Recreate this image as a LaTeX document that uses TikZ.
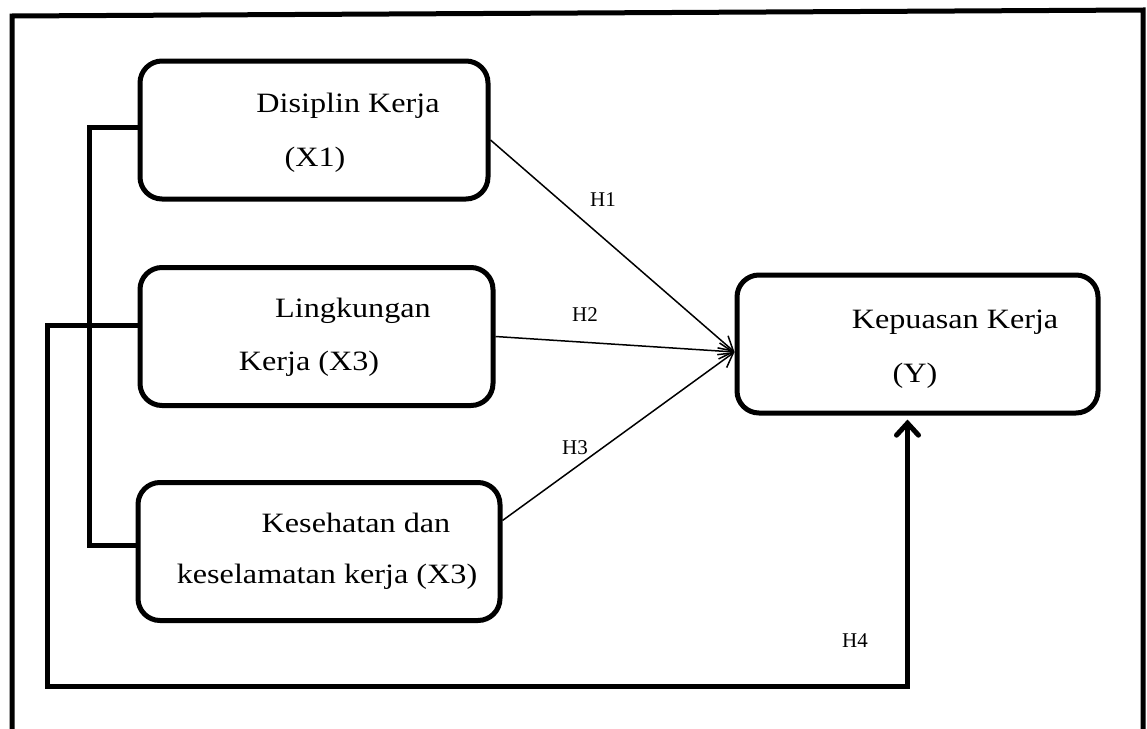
\documentclass[tikz,border=0pt]{standalone}
\usepackage{fontspec}
\setmainfont[FakeStretch=1.15]{Liberation Serif}
\newfontfamily\hfont{Liberation Serif}
\usetikzlibrary{positioning, arrows.meta}

\begin{document}
\begin{tikzpicture}[
    x=1pt, y=-1pt,
    box/.style={draw, line width=5pt, rounded corners=22pt, minimum width=#1, minimum height=138pt, inner sep=0pt},
    lbl/.style={font=\fontsize{28}{32}\selectfont, inner sep=0pt, anchor=base},
    hlbl/.style={font=\hfont\fontsize{21}{24}\selectfont, inner sep=0pt, anchor=base},
    thin arrow/.style={-{Straight Barb[length=14pt, width=16pt]}, line width=1.5pt},
    thick arrow/.style={-{Straight Barb[length=12pt, width=22pt, line cap=round]}, line width=5pt},
    link/.style={line width=5pt}
]
    \useasboundingbox (0,0) rectangle (1147,728);
    \clip (0,0) rectangle (1147,728);

    % Frame
    \draw[line width=5pt] (12,760) -- (12,16) -- (1143,10) -- (1143,760);

    % Boxes
    \node[box=348pt] (disiplin) at (314,130) {};
    \node[box=353pt] (lingkungan) at (316.5,336.5) {};
    \node[box=362pt] (kesehatan) at (319,551.5) {};
    \node[box=361pt] (kepuasan) at (917.5,344) {};

    % Box texts
    \node[lbl] (disiplin1) at (348,112) {Disiplin Kerja};
    \node[lbl] (disiplin2) at (315,166) {(X1)};
    \node[lbl] (lingkungan1) at (353,317) {Lingkungan};
    \node[lbl] (lingkungan2) at (309,370) {Kerja (X3)};
    \node[lbl] (kesehatan1) at (356,532) {Kesehatan dan};
    \node[lbl] (kesehatan2) at (327,583) {keselamatan kerja (X3)};
    \node[lbl] (kepuasan1) at (955,328) {Kepuasan Kerja};
    \node[lbl] (kepuasan2) at (915,382) {(Y)};

    % Hypothesis arrows
    \draw[thin arrow] ([yshift=-10pt]disiplin.east) -- ([yshift=-8pt]kepuasan.west);
    \draw[thin arrow] (lingkungan.east) -- ([yshift=-8pt]kepuasan.west);
    \draw[thin arrow] ([yshift=31pt]kesehatan.east) -- ([yshift=-8pt]kepuasan.west);

    \node[hlbl] (h1) at (603,206) {H1};
    \node[hlbl] (h2) at (585,321) {H2};
    \node[hlbl] (h3) at (575,454) {H3};
    \node[hlbl] (h4) at (855,647) {H4};

    % Links on the left
    \draw[link] ([yshift=3pt]disiplin.west) -- ++(-48,0) |- ([yshift=6pt]kesehatan.west);
    \coordinate (h4corner) at (47,686);
    \draw[thick arrow] ([yshift=11pt]lingkungan.west) -| (h4corner) -| ([xshift=-10pt,yshift=-4pt]kepuasan.south);

\end{tikzpicture}
\end{document}
